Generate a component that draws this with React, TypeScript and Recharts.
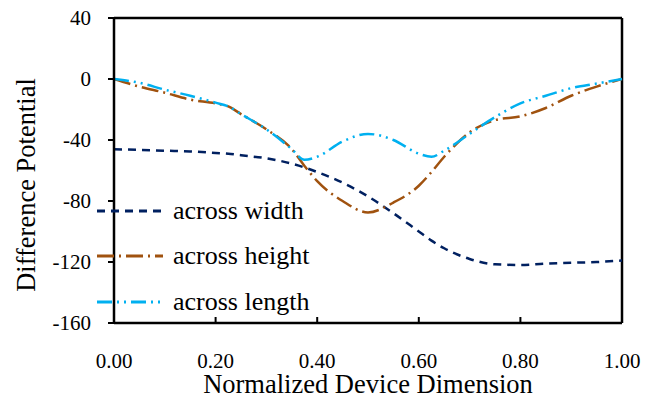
import React from "react"
import { LineChart, Line, XAxis, YAxis, ReferenceLine } from "recharts"

const FONT = '"Liberation Serif", "Times New Roman", serif'
const NAVY = "#002060"
const BROWN = "#A0520F"
const CYAN = "#00B0F0"

const xs = [0, 0.05, 0.1, 0.15, 0.2, 0.225, 0.25, 0.3, 0.35, 0.375, 0.4, 0.45, 0.5, 0.55, 0.6, 0.625, 0.65, 0.7, 0.75, 0.8, 0.85, 0.9, 0.95, 1]
const acrossWidth = [-46, -46.5, -47, -47.5, -48.5, -49, -50, -52, -55.5, -58, -61, -68, -77, -88, -100, -106, -111, -118, -121.5, -122, -121, -120.5, -120, -119]
const acrossHeight = [0, -5, -9, -13.5, -16, -18, -23, -33, -46, -57, -67, -80, -87.5, -81, -70, -61, -51, -35, -27, -24.5, -19, -11, -5, 0]
const acrossLength = [0, -2.5, -7, -11, -15.5, -18, -23, -33, -46, -53, -51, -41, -36, -40, -49, -51, -47, -36, -25, -16, -11, -6, -3, 0]

const xTicks = [0, 0.2, 0.4, 0.6, 0.8, 1]
const yTicks = [40, 0, -40, -80, -120, -160]

const series = [
  { key: "width", name: "across width", color: NAVY, dash: "8 6" },
  { key: "height", name: "across height", color: BROWN, dash: "17 5 2 5" },
  { key: "length", name: "across length", color: CYAN, dash: "15 5 2 5 2 5" },
]

const data = xs.map((x, i) => ({
  x,
  width: acrossWidth[i],
  height: acrossHeight[i],
  length: acrossLength[i],
}))

function YTitle() {
  return (
    <text x={35} y={185} transform="rotate(-90 35 185)" textAnchor="middle" fill="#000" fontSize={26.5} fontFamily={FONT}>
      Difference Potential
    </text>
  )
}

function XTitle() {
  return (
    <text x={368} y={393} textAnchor="middle" fill="#000" fontSize={26.5} fontFamily={FONT}>
      Normalized Device Dimension
    </text>
  )
}

function LegendBox() {
  return (
    <div style={{ position: "absolute", left: 97, top: 188, fontFamily: FONT, fontSize: 26, color: "#000", lineHeight: "30px" }}>
      {series.map((s) => (
        <div key={s.key} style={{ display: "flex", alignItems: "center", height: 45.5 }}>
          <svg width={66} height={6} style={{ marginRight: 10 }}>
            <line x1={0} y1={3} x2={66} y2={3} stroke={s.color} strokeWidth={3} strokeDasharray={s.dash} />
          </svg>
          <span>{s.name}</span>
        </div>
      ))}
    </div>
  )
}

export default function App() {
  const tickStyle = { fill: "#000", fontSize: 21, fontFamily: FONT }
  return (
    <div style={{ position: "absolute", left: 0, top: 0, width: 657, height: 398, background: "#fff" }}>
      <LineChart width={657} height={398} data={data} margin={{ top: 18, right: 35, bottom: 0, left: 0 }}>
        <XAxis
          dataKey="x"
          type="number"
          domain={[0, 1]}
          ticks={xTicks}
          tickFormatter={(v) => Number(v).toFixed(2)}
          height={75}
          tickSize={-6}
          tickMargin={36}
          tick={tickStyle}
          axisLine={{ stroke: "#000", strokeWidth: 2.5 }}
          tickLine={{ stroke: "#000", strokeWidth: 2 }}
          label={{ content: <XTitle /> }}
        />
        <YAxis
          type="number"
          domain={[-160, 40]}
          ticks={yTicks}
          width={114}
          tickSize={6}
          tickMargin={17}
          tick={tickStyle}
          axisLine={{ stroke: "#000", strokeWidth: 2.5 }}
          tickLine={{ stroke: "#000", strokeWidth: 2 }}
          label={{ content: <YTitle /> }}
        />
        <ReferenceLine y={40} stroke="#000" strokeWidth={2.5} />
        <ReferenceLine x={1} stroke="#000" strokeWidth={2.5} />
        {series.map((s) => (
          <Line
            key={s.key}
            dataKey={s.key}
            name={s.name}
            type="monotone"
            stroke={s.color}
            strokeWidth={2.5}
            strokeDasharray={s.dash}
            dot={false}
            activeDot={false}
            isAnimationActive={false}
          />
        ))}
      </LineChart>
      <LegendBox />
    </div>
  )
}
